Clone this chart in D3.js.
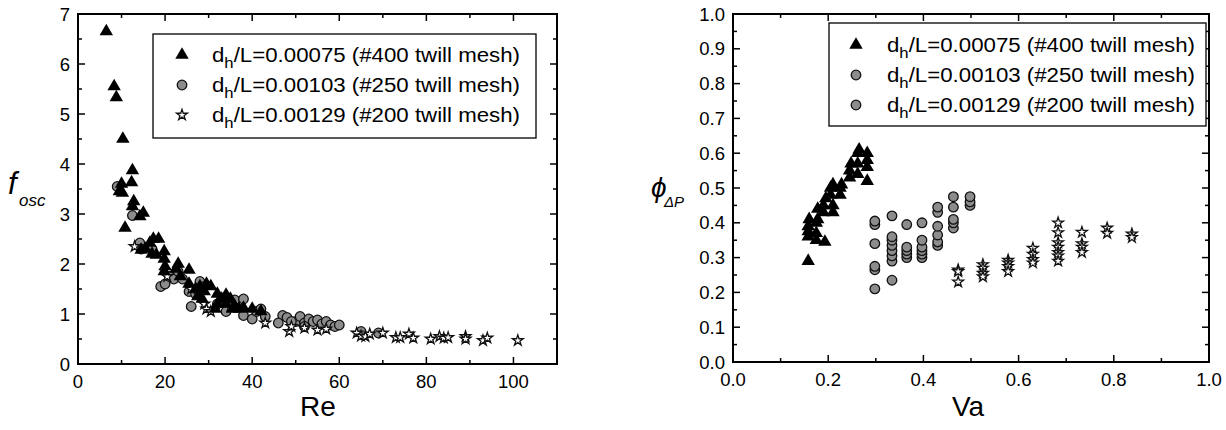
<!DOCTYPE html>
<html><head><meta charset="utf-8">
<script src="https://cdn.jsdelivr.net/npm/d3@7"></script>
<style>body{margin:0;background:#fff}svg{display:block}text{font-family:"Liberation Sans",Arial,sans-serif}</style>
</head><body><svg id="c" width="1226" height="430"></svg>
<script>
// ---- Left chart data: f_osc vs Re ----
const reTri = [[6.5,6.65],[8.3,5.55],[8.8,5.33],[10.3,4.5],[12.5,3.87],[12.3,3.63],[10,3.6],[9.5,3.45],[10.2,3.42],[12.8,3.25],[12.5,3.15],[15,3.02],[14.2,2.95],[10.8,2.72],[17.3,2.5],[18.5,2.5],[16.5,2.42],[15.5,2.3],[14.5,2.28],[17,2.2],[18,2.18],[19.8,2.25],[19.8,2.1],[20,1.95],[19.8,1.85],[23,2.0],[22.5,1.9],[25.5,1.88],[23.5,1.75],[25.5,1.6],[27,1.5],[28,1.55],[29.5,1.6],[30.5,1.55],[29,1.45],[27.5,1.35],[28.5,1.3],[32,1.4],[34,1.38],[33,1.3],[35,1.3],[32,1.2],[34,1.2],[36,1.15],[37,1.1],[38,1.12],[35.5,1.1],[31.5,1.1],[40,1.1],[42,1.05]];
const reCirc = [[9,3.55],[12.5,2.97],[14.2,2.42],[14.5,2.3],[17,2.3],[19,1.55],[20,1.6],[21,1.75],[22,1.7],[23,1.85],[24,1.7],[25.5,1.45],[26,1.15],[27,1.4],[28,1.65],[29,1.55],[32,1.2],[34,1.05],[36,1.28],[38,1.3],[38,0.97],[40,0.9],[41,1.05],[42,1.1],[43,0.95],[47,0.97],[46,0.82],[48,0.93],[50,0.85],[51,0.95],[52,0.82],[53,0.9],[54,0.85],[55,0.88],[56,0.8],[57,0.85],[58,0.78],[59,0.75],[60,0.78],[65,0.65],[69,0.62],[52,0.75],[49,0.85]];
const reStar = [[13,2.35],[20.5,1.75],[26,1.5],[29,1.2],[29.5,1.1],[30.5,1.05],[35,1.15],[43,0.82],[48.5,0.65],[49,0.75],[52,0.72],[55,0.68],[57,0.7],[64,0.62],[65,0.56],[66,0.55],[67,0.6],[70,0.62],[73,0.53],[74,0.53],[76,0.6],[77,0.52],[81,0.5],[83,0.55],[84,0.52],[85,0.53],[89,0.55],[89,0.5],[93,0.47],[94,0.52],[101,0.47]];
const reTicks = [0,20,40,60,80,100];
const foscTicks = [0,1,2,3,4,5,6,7];

// ---- Right chart data: phi_dP vs Va ----
const vaTri = [[0.158,0.29],[0.158,0.36],[0.158,0.375],[0.158,0.39],[0.16,0.41],[0.175,0.35],[0.175,0.37],[0.175,0.40],[0.178,0.41],[0.178,0.44],[0.193,0.345],[0.19,0.43],[0.19,0.45],[0.195,0.47],[0.21,0.43],[0.21,0.45],[0.205,0.48],[0.205,0.50],[0.21,0.51],[0.225,0.48],[0.225,0.50],[0.228,0.51],[0.245,0.53],[0.245,0.55],[0.248,0.57],[0.262,0.54],[0.262,0.57],[0.262,0.60],[0.265,0.61],[0.282,0.52],[0.282,0.56],[0.282,0.58],[0.282,0.60]];
const vaCirc = [[0.298,0.21],[0.298,0.265],[0.298,0.275],[0.298,0.34],[0.298,0.395],[0.298,0.405],[0.334,0.235],[0.334,0.29],[0.334,0.305],[0.334,0.32],[0.334,0.335],[0.334,0.35],[0.334,0.36],[0.334,0.42],[0.365,0.30],[0.365,0.31],[0.365,0.32],[0.365,0.33],[0.365,0.395],[0.397,0.30],[0.397,0.31],[0.397,0.32],[0.397,0.33],[0.397,0.35],[0.397,0.40],[0.43,0.335],[0.43,0.345],[0.43,0.365],[0.43,0.39],[0.43,0.43],[0.43,0.445],[0.463,0.385],[0.463,0.40],[0.463,0.41],[0.463,0.445],[0.463,0.475],[0.498,0.45],[0.498,0.46],[0.498,0.475]];
const vaStar = [[0.473,0.265],[0.473,0.26],[0.473,0.23],[0.525,0.28],[0.525,0.27],[0.525,0.255],[0.525,0.245],[0.578,0.293],[0.578,0.285],[0.578,0.275],[0.578,0.26],[0.63,0.327],[0.63,0.31],[0.63,0.295],[0.63,0.285],[0.683,0.40],[0.683,0.372],[0.683,0.343],[0.683,0.33],[0.683,0.315],[0.683,0.305],[0.683,0.29],[0.733,0.373],[0.733,0.34],[0.733,0.33],[0.733,0.315],[0.786,0.385],[0.786,0.37],[0.838,0.368],[0.838,0.358]];
const vaTicks = [0.0,0.2,0.4,0.6,0.8,1.0];
const phiTicks = [0.0,0.1,0.2,0.3,0.4,0.5,0.6,0.7,0.8,0.9,1.0];

const legendVals = ["0.00075 (#400 twill mesh)","0.00103 (#250 twill mesh)","0.00129 (#200 twill mesh)"];

const svg = d3.select("#c");
const symTri = d3.symbol().type(d3.symbolTriangle).size(78)();
const symCirc = d3.symbol().type(d3.symbolCircle).size(72)();
const symStar = d3.symbol().type(d3.symbolStar).size(36)();

function drawMarks(g, data, x, y, kind){
  const path = kind==="tri"?symTri:kind==="circ"?symCirc:symStar;
  g.selectAll(null).data(data).enter().append("path")
    .attr("d", path)
    .attr("transform", d=>`translate(${x(d[0])},${y(d[1])})`)
    .attr("fill", kind==="tri"?"#000":kind==="circ"?"#8c8c8c":"#fff")
    .attr("stroke", kind==="tri"?"none":"#111")
    .attr("stroke-width", 1.3);
}

function frame(g, x, y, xMaj, xMin, yMaj, yMin, xFmt, yFmt){
  const [x0,x1]=x.range(), [y0,y1]=y.range();
  const tl=7, ts=4;
  const tick = (arr,len,axis)=>arr.forEach(v=>{
    if(axis==="x"){
      g.append("line").attr("x1",x(v)).attr("x2",x(v)).attr("y1",y0).attr("y2",y0-len).attr("stroke","#000").attr("stroke-width",1.5);
      g.append("line").attr("x1",x(v)).attr("x2",x(v)).attr("y1",y1).attr("y2",y1+len).attr("stroke","#000").attr("stroke-width",1.5);
    } else {
      g.append("line").attr("y1",y(v)).attr("y2",y(v)).attr("x1",x0).attr("x2",x0+len).attr("stroke","#000").attr("stroke-width",1.5);
      g.append("line").attr("y1",y(v)).attr("y2",y(v)).attr("x1",x1).attr("x2",x1-len).attr("stroke","#000").attr("stroke-width",1.5);
    }
  });
  tick(xMaj,tl,"x"); tick(xMin,ts,"x"); tick(yMaj,tl,"y"); tick(yMin,ts,"y");
  g.append("rect").attr("x",x0).attr("y",y1).attr("width",x1-x0).attr("height",y0-y1)
    .attr("fill","none").attr("stroke","#000").attr("stroke-width",2);
  g.selectAll(null).data(xMaj).enter().append("text").attr("x",d=>x(d)).attr("y",y0+24)
    .attr("text-anchor","middle").attr("font-size",18.5).text(xFmt);
  g.selectAll(null).data(yMaj).enter().append("text").attr("x",x0-8).attr("y",d=>y(d)+6.5)
    .attr("text-anchor","end").attr("font-size",18.5).text(yFmt);
}

function legend(g, bx, by, bw, bh, rows, kinds, symX, textX, textW, rowY0, dy){
  g.append("rect").attr("x",bx).attr("y",by).attr("width",bw).attr("height",bh)
    .attr("fill","#fff").attr("stroke","#000").attr("stroke-width",1.3);
  rows.forEach((r,i)=>{
    const cy=rowY0+i*dy;
    const k=kinds[i];
    g.append("path").attr("d", k==="tri"?symTri:k==="circ"?symCirc:symStar)
      .attr("transform",`translate(${symX},${cy})`)
      .attr("fill", k==="tri"?"#000":k==="circ"?"#8c8c8c":"#fff")
      .attr("stroke", k==="tri"?"none":"#111").attr("stroke-width",1.3);
    const t=g.append("text").attr("x",textX).attr("y",cy+7).attr("font-size",20)
      .attr("textLength",textW).attr("lengthAdjust","spacingAndGlyphs");
    t.append("tspan").text("d");
    t.append("tspan").attr("font-size",15).attr("dy",6).text("h");
    t.append("tspan").attr("dy",-6).text("/L="+r);
  });
}

// Left chart
const xL = d3.scaleLinear().domain([0,110]).range([78,557]);
const yL = d3.scaleLinear().domain([0,7]).range([364,14]);
const gL = svg.append("g");
frame(gL, xL, yL, reTicks, d3.range(10,110,20), foscTicks, d3.range(0.5,7,1), d=>d, d=>d);
drawMarks(gL, reCirc, xL, yL, "circ");
drawMarks(gL, reStar, xL, yL, "star");
drawMarks(gL, reTri, xL, yL, "tri");
legend(gL, 153, 34, 383, 104, legendVals, ["tri","circ","star"], 182, 212, 308, 55, 30);
gL.append("text").attr("x",318).attr("y",416).attr("text-anchor","middle").attr("font-size",28).text("Re");
gL.append("text").attr("x",8).attr("y",194).attr("font-size",31).attr("font-style","italic")
  .attr("font-family","'Liberation Serif',serif").text("f");
gL.append("text").attr("x",19).attr("y",206).attr("font-size",17).attr("font-style","italic").text("osc");

// Right chart
const xR = d3.scaleLinear().domain([0,1]).range([733,1209]);
const yR = d3.scaleLinear().domain([0,1]).range([362,14]);
const gR = svg.append("g");
frame(gR, xR, yR, vaTicks, d3.range(0.1,1,0.2), phiTicks, d3.range(0.05,1,0.1), d=>d.toFixed(1), d=>d.toFixed(1));
drawMarks(gR, vaCirc, xR, yR, "circ");
drawMarks(gR, vaStar, xR, yR, "star");
drawMarks(gR, vaTri, xR, yR, "tri");
legend(gR, 829, 23, 377, 103, legendVals, ["tri","circ","circ"], 856, 887, 308, 45, 30);
gR.append("text").attr("x",968).attr("y",416).attr("text-anchor","middle").attr("font-size",28).text("Va");
gR.append("text").attr("x",651).attr("y",197).attr("font-size",28).attr("font-style","italic").text("ϕ");
gR.append("text").attr("x",664).attr("y",207).attr("font-size",15).attr("font-style","italic").text("ΔP");
</script></body></html>
